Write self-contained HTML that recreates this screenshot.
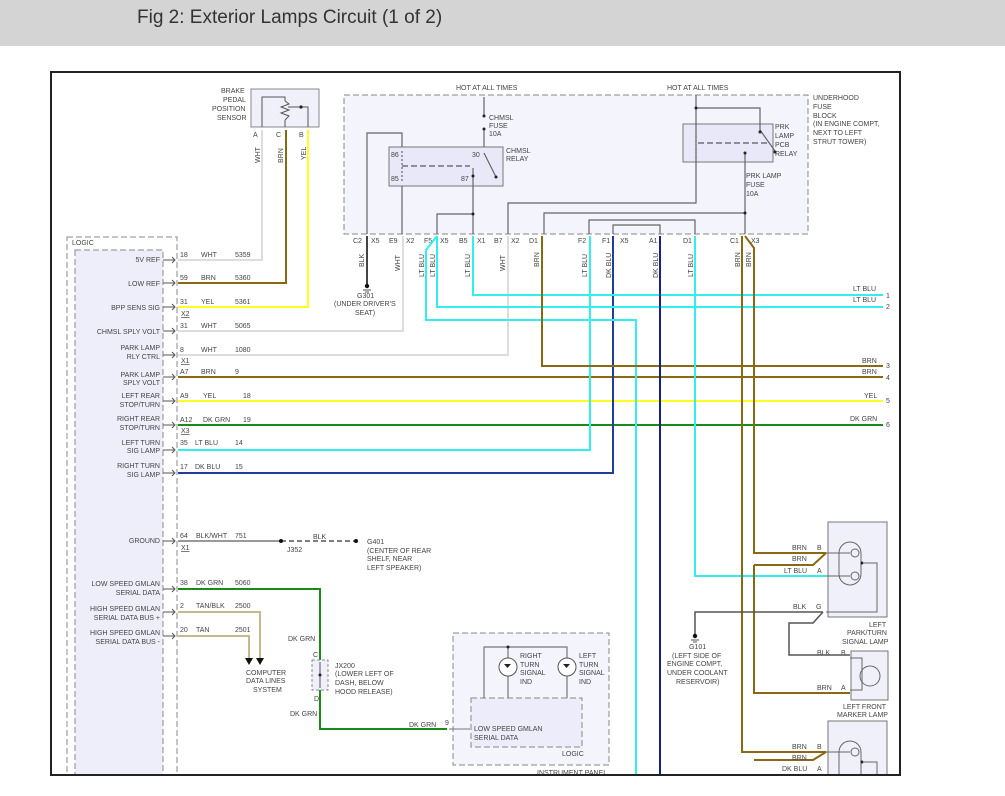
<!DOCTYPE html>
<html><head><meta charset="utf-8"><style>
body{margin:0;width:1005px;height:796px;overflow:hidden;background:#fff;font-family:"Liberation Sans",sans-serif}
#hdr{position:absolute;left:0;top:0;width:1005px;height:46px;background:#d4d4d4}
#hdr span{position:absolute;left:137px;top:7px;font-size:19px;color:#333}
svg{position:absolute;left:0;top:0}
text{font-family:"Liberation Sans",sans-serif;font-size:7px;fill:#444}
</style></head><body>
<div id="hdr"><span>Fig 2: Exterior Lamps Circuit (1 of 2)</span></div>
<svg width="1005" height="796" viewBox="0 0 1005 796">
<rect x="51" y="72" width="849" height="703" fill="#fff" stroke="#222" stroke-width="2"/>
<!-- logic box -->
<rect x="67" y="237" width="110" height="540" fill="#fff" stroke="#888" stroke-dasharray="6,3"/>
<rect x="75" y="250" width="88" height="527" fill="#eeeefb" stroke="#888" stroke-dasharray="6,3"/>
<text x="72" y="245">LOGIC</text>
<!-- fuse block -->
<rect x="344" y="95" width="464" height="139" fill="#f4f4fc" stroke="#888" stroke-dasharray="6,3"/>
<rect x="389" y="147" width="114" height="39" fill="#e8e8f8" stroke="#777"/>
<rect x="683" y="124" width="90" height="38" fill="#e8e8f8" stroke="#777"/>
<g fill="#333">
<text x="456" y="90">HOT AT ALL TIMES</text><text x="667" y="90">HOT AT ALL TIMES</text>
<text x="813" y="100">UNDERHOOD</text><text x="813" y="109">FUSE</text><text x="813" y="118">BLOCK</text><text x="813" y="126">(IN ENGINE COMPT,</text><text x="813" y="135">NEXT TO LEFT</text><text x="813" y="144">STRUT TOWER)</text>
<text x="489" y="120">CHMSL</text><text x="489" y="128">FUSE</text><text x="489" y="136">10A</text>
<text x="506" y="153">CHMSL</text><text x="506" y="161">RELAY</text>
<text x="391" y="157">86</text><text x="391" y="181">85</text><text x="472" y="157">30</text><text x="461" y="181">87</text>
<text x="775" y="129">PRK</text><text x="775" y="138">LAMP</text><text x="775" y="147">PCB</text><text x="775" y="156">RELAY</text>
<text x="746" y="178">PRK LAMP</text><text x="746" y="187">FUSE</text><text x="746" y="196">10A</text>
</g>
<g fill="none" stroke="#666" stroke-width="1.2">
<path d="M484,97V117M484,128V147M484,153L496,177M473,168V186"/>
<path d="M367,234V133H402V147M402,186V234M473,186V234M437,234V214H473"/>
<path d="M508,234V203H696V108H760V132M696,108V95"/>
<path d="M760,130L775,151M745,153V234M544,234V213H745M589,234V220H695V234M613,234V225H660V234"/>
<path d="M402,151V183M696,136V160" stroke-dasharray="2,2"/>
</g>
<path d="M402,166H470M698,143H768" stroke="#333" stroke-dasharray="6,3" fill="none"/>
<g fill="#222"><circle cx="484" cy="116" r="1.5"/><circle cx="484" cy="129" r="1.5"/><circle cx="473" cy="214" r="1.5"/><circle cx="696" cy="108" r="1.5"/><circle cx="745" cy="153" r="1.5"/><circle cx="745" cy="213" r="1.5"/><circle cx="760" cy="132" r="1.5"/><circle cx="775" cy="152" r="1.5"/><circle cx="496" cy="177" r="1.5"/><circle cx="473" cy="176" r="1.5"/></g>
<g fill="#333">
<text x="353" y="243">C2</text><text x="371" y="243">X5</text><text x="389" y="243">E9</text><text x="406" y="243">X2</text><text x="424" y="243">F5</text><text x="440" y="243">X5</text><text x="459" y="243">B5</text><text x="477" y="243">X1</text><text x="494" y="243">B7</text><text x="511" y="243">X2</text><text x="529" y="243">D1</text><text x="578" y="243">F2</text><text x="602" y="243">F1</text><text x="620" y="243">X5</text><text x="649" y="243">A1</text><text x="683" y="243">D1</text><text x="730" y="243">C1</text><text x="751" y="243">X3</text>
</g>
<!-- brake sensor -->
<rect x="251" y="89" width="68" height="38" fill="#f0f0fa" stroke="#888"/>
<path d="M262,127V97H285V101M285,120V127M288,107H308V127M285,101L289,104L281,107L289,110L281,113L289,116L285,120" fill="none" stroke="#555"/>
<circle cx="301" cy="107" r="1.6" fill="#222"/>
<g fill="#333"><text x="221" y="93">BRAKE</text><text x="223" y="102">PEDAL</text><text x="212" y="111">POSITION</text><text x="217" y="120">SENSOR</text>
<text x="253" y="137">A</text><text x="276" y="137">C</text><text x="299" y="137">B</text></g>
<!-- wires -->
<g fill="none" stroke-width="2">
<path d="M178,260H262V130" stroke="#ddd"/>
<path d="M178,283H286V130" stroke="#8b6914"/>
<path d="M178,307H308V130" stroke="#ffff22"/>
<path d="M178,331H403V236" stroke="#ddd"/>
<path d="M178,355H508V236" stroke="#ddd"/>
<path d="M178,377H883" stroke="#8b6914"/>
<path d="M178,401H883" stroke="#ffff22"/>
<path d="M178,425H883" stroke="#1a8a1a"/>
<path d="M178,450H590V236" stroke="#33eeee"/>
<path d="M178,473H613V236" stroke="#223d99"/>
<path d="M367,236V286" stroke="#444"/>
<path d="M437,236L426,250V320H636V775" stroke="#33eeee"/>
<path d="M437,236V307H883" stroke="#33eeee"/>
<path d="M473,236V295H883" stroke="#33eeee"/>
<path d="M542,236V366H883" stroke="#8b6914"/>
<path d="M660,236V775" stroke="#112288"/>
<path d="M695,236V576H826" stroke="#33eeee"/>
<path d="M742,236V752H826" stroke="#8b6914"/>
<path d="M745,236L754,248V553H826M754,565H813L826,553M754,565V693H850M754,760H813L826,752" stroke="#8b6914"/>
<path d="M178,589H320V660M320,690V729H447" stroke="#1a8a1a"/>
<path d="M178,612H260V658M178,636H249V658" stroke="#c8b890"/>
<path d="M178,541H281" stroke="#999"/>
</g>
<path d="M281,541H356" stroke="#555" stroke-width="1.5" stroke-dasharray="5,3"/>
<circle cx="281" cy="541" r="2" fill="#111"/><circle cx="356" cy="541" r="2" fill="#111"/>
<path d="M245,658h8l-4,7zM256,658h8l-4,7z" fill="#111"/>
<circle cx="367" cy="286" r="2.2" fill="#111"/><path d="M363,290h8M365,292h4" stroke="#555"/>
<!-- wire labels -->
<g fill="#333">
<text x="180" y="257">18</text><text x="201" y="257">WHT</text><text x="235" y="257">5359</text>
<text x="180" y="280">59</text><text x="201" y="280">BRN</text><text x="235" y="280">5360</text>
<text x="180" y="304">31</text><text x="201" y="304">YEL</text><text x="235" y="304">5361</text><text x="181" y="316" text-decoration="underline">X2</text>
<text x="180" y="328">31</text><text x="201" y="328">WHT</text><text x="235" y="328">5065</text>
<text x="180" y="352">8</text><text x="201" y="352">WHT</text><text x="235" y="352">1080</text><text x="181" y="363" text-decoration="underline">X1</text>
<text x="180" y="374">A7</text><text x="201" y="374">BRN</text><text x="235" y="374">9</text>
<text x="180" y="398">A9</text><text x="203" y="398">YEL</text><text x="243" y="398">18</text>
<text x="180" y="422">A12</text><text x="203" y="422">DK GRN</text><text x="243" y="422">19</text><text x="181" y="433" text-decoration="underline">X3</text>
<text x="180" y="445">35</text><text x="195" y="445">LT BLU</text><text x="235" y="445">14</text>
<text x="180" y="469">17</text><text x="195" y="469">DK BLU</text><text x="235" y="469">15</text>
<text x="180" y="538">64</text><text x="196" y="538">BLK/WHT</text><text x="235" y="538">751</text><text x="181" y="550" text-decoration="underline">X1</text>
<text x="180" y="585">38</text><text x="196" y="585">DK GRN</text><text x="235" y="585">5060</text>
<text x="180" y="608">2</text><text x="196" y="608">TAN/BLK</text><text x="235" y="608">2500</text>
<text x="180" y="632">20</text><text x="196" y="632">TAN</text><text x="235" y="632">2501</text>
<text x="313" y="539">BLK</text><text x="287" y="552">J352</text>
<text x="367" y="544">G401</text><text x="367" y="553">(CENTER OF REAR</text><text x="367" y="561">SHELF, NEAR</text><text x="367" y="570">LEFT SPEAKER)</text>
<text x="357" y="298">G301</text><text x="334" y="306">(UNDER DRIVER'S</text><text x="355" y="315">SEAT)</text>
<text x="246" y="675">COMPUTER</text><text x="246" y="683">DATA LINES</text><text x="253" y="692">SYSTEM</text>
<text x="288" y="641">DK GRN</text><text x="290" y="716">DK GRN</text><text x="409" y="727">DK GRN</text><text x="445" y="725">9</text>
<text x="313" y="657">C</text><text x="314" y="701">D</text>
<text x="335" y="668">JX200</text><text x="335" y="676">(LOWER LEFT OF</text><text x="335" y="685">DASH, BELOW</text><text x="335" y="694">HOOD RELEASE)</text>
<text x="853" y="291">LT BLU</text><text x="853" y="302">LT BLU</text><text x="862" y="363">BRN</text><text x="862" y="374">BRN</text><text x="864" y="398">YEL</text><text x="850" y="421">DK GRN</text>
<text x="886" y="298">1</text><text x="886" y="309">2</text><text x="886" y="368">3</text><text x="886" y="380">4</text><text x="886" y="403">5</text><text x="886" y="427">6</text>
<text x="792" y="550">BRN</text><text x="817" y="550">B</text><text x="792" y="561">BRN</text><text x="784" y="573">LT BLU</text><text x="817" y="573">A</text>
<text x="793" y="609">BLK</text><text x="816" y="609">G</text><text x="817" y="655">BLK</text><text x="841" y="655">B</text><text x="817" y="690">BRN</text><text x="841" y="690">A</text>
<text x="792" y="749">BRN</text><text x="817" y="749">B</text><text x="792" y="760">BRN</text><text x="782" y="771">DK BLU</text><text x="817" y="771">A</text>
<text x="869" y="627">LEFT</text><text x="847" y="635">PARK/TURN</text><text x="842" y="644">SIGNAL LAMP</text>
<text x="843" y="709">LEFT FRONT</text><text x="837" y="717">MARKER LAMP</text>
<text x="689" y="649">G101</text><text x="672" y="658">(LEFT SIDE OF</text><text x="667" y="666">ENGINE COMPT,</text><text x="667" y="675">UNDER COOLANT</text><text x="676" y="684">RESERVOIR)</text>
</g>
<g fill="#333" text-anchor="end">
<text x="160" y="262">5V REF</text><text x="160" y="286">LOW REF</text><text x="160" y="310">BPP SENS SIG</text><text x="160" y="334">CHMSL SPLY VOLT</text>
<text x="160" y="350">PARK LAMP</text><text x="160" y="359">RLY CTRL</text><text x="160" y="377">PARK LAMP</text><text x="160" y="385">SPLY VOLT</text>
<text x="160" y="398">LEFT REAR</text><text x="160" y="407">STOP/TURN</text><text x="160" y="421">RIGHT REAR</text><text x="160" y="430">STOP/TURN</text>
<text x="160" y="445">LEFT TURN</text><text x="160" y="453">SIG LAMP</text><text x="160" y="468">RIGHT TURN</text><text x="160" y="477">SIG LAMP</text>
<text x="160" y="543">GROUND</text><text x="160" y="586">LOW SPEED GMLAN</text><text x="160" y="595">SERIAL DATA</text>
<text x="160" y="611">HIGH SPEED GMLAN</text><text x="160" y="620">SERIAL DATA BUS +</text><text x="160" y="635">HIGH SPEED GMLAN</text><text x="160" y="644">SERIAL DATA BUS -</text>
</g>
<g fill="#333" font-size="7">
<text transform="translate(260,163) rotate(-90)">WHT</text><text transform="translate(283,163) rotate(-90)">BRN</text><text transform="translate(306,160) rotate(-90)">YEL</text>
<text transform="translate(364,267) rotate(-90)">BLK</text><text transform="translate(400,271) rotate(-90)">WHT</text>
<text transform="translate(424,277) rotate(-90)">LT BLU</text><text transform="translate(435,277) rotate(-90)">LT BLU</text><text transform="translate(470,277) rotate(-90)">LT BLU</text>
<text transform="translate(505,271) rotate(-90)">WHT</text><text transform="translate(539,267) rotate(-90)">BRN</text><text transform="translate(587,277) rotate(-90)">LT BLU</text>
<text transform="translate(611,278) rotate(-90)">DK BLU</text><text transform="translate(658,278) rotate(-90)">DK BLU</text><text transform="translate(693,277) rotate(-90)">LT BLU</text>
<text transform="translate(740,267) rotate(-90)">BRN</text><text transform="translate(751,267) rotate(-90)">BRN</text>
</g>
<!-- connector chevrons on logic -->
<g fill="none" stroke="#555">
<path d="M163,260h11M163,283h11M163,307h11M163,331h11M163,355h11M163,377h11M163,401h11M163,425h11M163,450h11M163,473h11M163,541h11M163,589h11M163,612h11M163,636h11"/>
<path d="M172,257l3,3l-3,3M172,280l3,3l-3,3M172,304l3,3l-3,3M172,328l3,3l-3,3M172,352l3,3l-3,3M172,374l3,3l-3,3M172,398l3,3l-3,3M172,422l3,3l-3,3M172,447l3,3l-3,3M172,470l3,3l-3,3M172,538l3,3l-3,3M172,586l3,3l-3,3M172,609l3,3l-3,3M172,633l3,3l-3,3"/>
</g>
<!-- ground G101 -->
<path d="M695,637V612H823M823,612L813,623H789V655H850" fill="none" stroke="#555" stroke-width="1.5"/>
<circle cx="695" cy="636" r="2.2" fill="#111"/><path d="M691,640h8M693,642h4" stroke="#555"/>
<!-- lamps -->
<rect x="828" y="522" width="59" height="95" fill="#f0f0fa" stroke="#777"/>
<rect x="851" y="651" width="37" height="49" fill="#f0f0fa" stroke="#777"/>
<rect x="828" y="721" width="59" height="60" fill="#f0f0fa" stroke="#777"/>
<g fill="none" stroke="#666">
<rect x="839" y="542" width="22" height="43" rx="11"/><circle cx="855" cy="553" r="4"/><circle cx="855" cy="576" r="4"/>
<path d="M826,553H850M826,576H850M864,563H877V612H826"/>
<circle cx="870" cy="676" r="10"/><path d="M850,658H862V690H850"/>
<rect x="839" y="741" width="22" height="43" rx="11"/><circle cx="855" cy="752" r="4"/><path d="M826,752H850M864,762H877V775"/>
</g>
<circle cx="862" cy="563" r="1.5" fill="#222"/><circle cx="862" cy="762" r="1.5" fill="#222"/>
<!-- JX200 -->
<rect x="312" y="660" width="16" height="30" fill="#f0f0fa" stroke="#888" stroke-dasharray="3,2"/>
<path d="M320,662V688" stroke="#555"/><circle cx="320" cy="675" r="1.5" fill="#222"/>
<!-- instrument panel -->
<rect x="453" y="633" width="156" height="132" fill="#f4f4fc" stroke="#888" stroke-dasharray="6,3"/>
<rect x="471" y="698" width="111" height="49" fill="#ececfa" stroke="#888" stroke-dasharray="6,3"/>
<path d="M484,698V647H567V698M508,647V698" fill="none" stroke="#777" stroke-width="1.2"/>
<circle cx="508" cy="667" r="9" fill="#fff" stroke="#555"/><circle cx="567" cy="667" r="9" fill="#fff" stroke="#555"/>
<circle cx="508" cy="647" r="1.5" fill="#222"/>
<path d="M504,664h7l-3.5,4zM563,664h7l-3.5,4z" fill="#222"/>
<path d="M449,729H470" stroke="#777"/>
<g fill="#333"><text x="520" y="658">RIGHT</text><text x="520" y="667">TURN</text><text x="520" y="675">SIGNAL</text><text x="520" y="684">IND</text>
<text x="579" y="658">LEFT</text><text x="579" y="667">TURN</text><text x="579" y="675">SIGNAL</text><text x="579" y="684">IND</text>
<text x="474" y="731">LOW SPEED GMLAN</text><text x="474" y="740">SERIAL DATA</text><text x="562" y="756">LOGIC</text><text x="537" y="775">INSTRUMENT PANEL</text></g>
<rect x="0" y="776" width="1005" height="20" fill="#fff"/>
<path d="M51,775H900M900,72V776" stroke="#222" stroke-width="2"/>
</svg>
</body></html>
